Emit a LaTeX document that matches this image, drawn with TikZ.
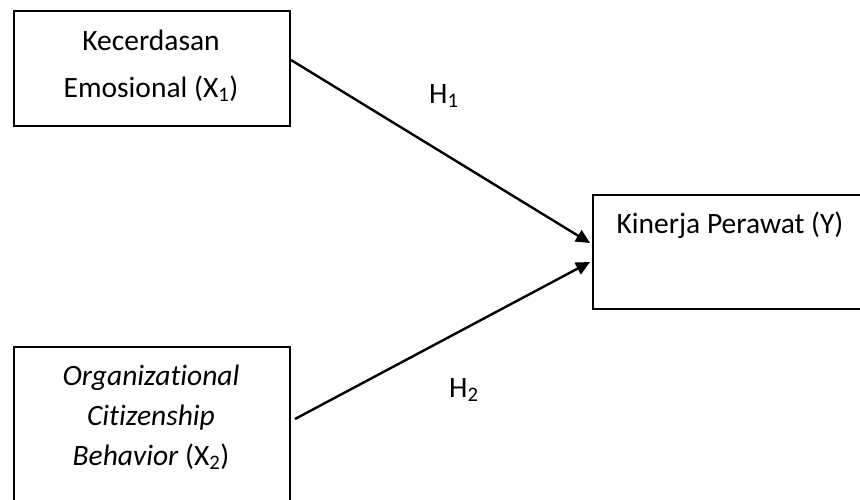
\documentclass[tikz,border=0pt]{standalone}
\usepackage{fontspec}
\setmainfont{Carlito}[Ligatures=NoCommon]
\usetikzlibrary{arrows.meta}
\begin{document}
\begin{tikzpicture}[x=1pt,y=-1pt,
  box/.style={draw,line width=2pt,inner sep=0pt,anchor=north west},
  txt/.style={anchor=base,inner sep=0pt,font=\fontsize{29.5}{35}\selectfont},
  link/.style={line width=2.4pt,-{Triangle[length=14pt,width=13pt]}}]
\useasboundingbox (0,0) rectangle (860,499);
\clip (0,0) rectangle (860,499);
% variable boxes
\node[box,minimum width=276pt,minimum height=115pt] (x1) at (13,10) {};
\node[box,minimum width=276pt,minimum height=175pt] (x2) at (13,346) {};
\node[box,minimum width=290pt,minimum height=114pt] (y) at (592,194) {};
% box texts
\node[txt] (x1a) at (151,50) {Kecerdasan};
\node[txt] (x1b) at (151,97) {Emosional (X\textsubscript{1})};
\node[txt] (x2a) at (151,385) {\itshape Organizational};
\node[txt] (x2b) at (151,425) {\itshape Citizenship};
\node[txt] (x2c) at (151,465) {\textit{Behavior} (X\textsubscript{2})};
\node[txt] (ya) at (730,233) {Kinerja Perawat (Y)};
% hypothesis labels
\node[txt,anchor=base west] (h1) at (429,103) {H\textsubscript{1}};
\node[txt,anchor=base west] (h2) at (449,397) {H\textsubscript{2}};
% paths
\draw[link] ([yshift=-50pt]x1.north east) -- ([xshift=-2pt,yshift=-49pt]y.north west);
\draw[link] ([xshift=4pt,yshift=-73pt]x2.north east) -- ([xshift=-2pt,yshift=-68pt]y.north west);
\end{tikzpicture}
\end{document}
